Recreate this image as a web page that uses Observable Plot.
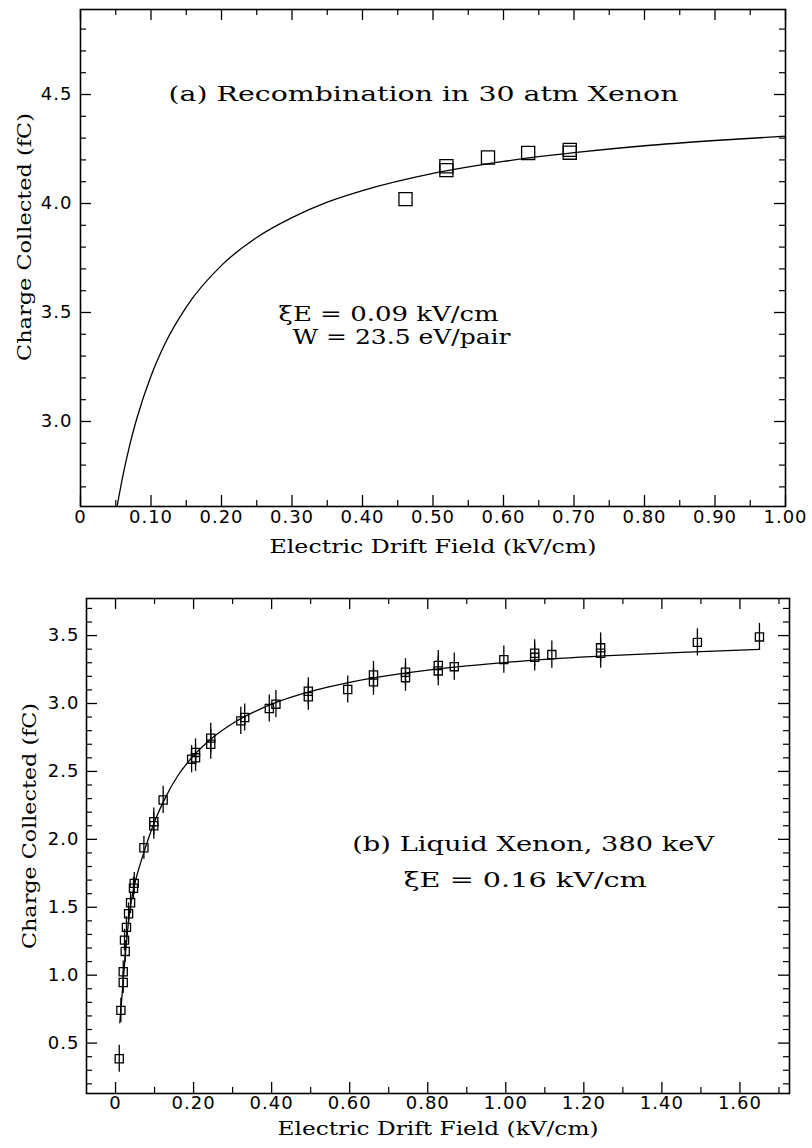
<!DOCTYPE html>
<html><head><meta charset="utf-8">
<script src="https://cdn.jsdelivr.net/npm/d3@7"></script>
<script src="https://cdn.jsdelivr.net/npm/@observablehq/plot@0.6"></script>
<style>
body{margin:0;background:#fff;}
#chart{width:812px;}
#chart svg{display:block;}
</style></head><body><div id="chart"></div>
<script>
// ---------- Panel (a): gas xenon ----------
const aPointE = [0.461, 0.519, 0.519, 0.578, 0.635, 0.694, 0.694];
const aPointQ = [4.02, 4.171, 4.153, 4.211, 4.232, 4.246, 4.233];
const aFitE = [0.052,0.06,0.07,0.08,0.10,0.12,0.15,0.20,0.25,0.30,0.35,0.40,0.50,0.60,0.70,0.80,0.90,1.00];
const aFitQ = [2.612,2.749,2.894,3.015,3.209,3.358,3.525,3.716,3.844,3.935,4.006,4.059,4.138,4.193,4.233,4.265,4.289,4.309];
const aXMajor = [0,0.1,0.2,0.3,0.4,0.5,0.6,0.7,0.8,0.9,1.0];
const aXMinor = [0.05,0.15,0.25,0.35,0.45,0.55,0.65,0.75,0.85,0.95];
const aYMajor = [3.0,3.5,4.0,4.5];
const aYMinor = [2.7,2.8,2.9,3.1,3.2,3.3,3.4,3.6,3.7,3.8,3.9,4.1,4.2,4.3,4.4,4.6,4.7,4.8];
const aNoteText = ["(a) Recombination in 30 atm Xenon", "\u03BEE = 0.09 kV/cm", "W = 23.5 eV/pair"];
const aNoteE = [0.1248, 0.281, 0.3007];
const aNoteQ = [4.50, 3.49, 3.384];

// ---------- Panel (b): liquid xenon ----------
const bPointE = [0.0095,0.0137,0.0197,0.0197,0.0248,0.023,0.028,0.0334,0.0385,0.046,0.048,0.0727,0.098,0.098,0.122,0.195,0.205,0.205,0.244,0.244,0.321,0.331,0.394,0.411,0.494,0.494,0.595,0.661,0.661,0.743,0.743,0.827,0.827,0.868,0.995,1.074,1.074,1.118,1.243,1.243,1.491,1.65];
const bPointQ = [0.385,0.741,0.946,1.025,1.175,1.258,1.352,1.452,1.533,1.64,1.676,1.938,2.10,2.13,2.29,2.59,2.60,2.64,2.70,2.745,2.872,2.897,2.963,2.995,3.05,3.09,3.103,3.16,3.21,3.19,3.23,3.24,3.28,3.271,3.323,3.34,3.37,3.36,3.37,3.41,3.45,3.49];
const bPointErr = [0.10,0.09,0.08,0.08,0.08,0.08,0.08,0.08,0.08,0.08,0.08,0.085,0.10,0.10,0.10,0.10,0.10,0.10,0.11,0.11,0.10,0.10,0.10,0.10,0.10,0.10,0.10,0.10,0.10,0.10,0.10,0.11,0.11,0.10,0.10,0.10,0.10,0.10,0.11,0.11,0.10,0.10];
const bFitE = [0.011,0.014,0.02,0.026,0.03,0.035,0.04,0.05,0.07,0.10,0.13,0.16,0.20,0.25,0.30,0.40,0.50,0.60,0.75,0.90,1.05,1.25,1.45,1.65];
const bFitQ = [0.65,0.76,0.97,1.18,1.30,1.44,1.54,1.68,1.88,2.13,2.32,2.47,2.616,2.752,2.853,2.995,3.089,3.156,3.227,3.277,3.314,3.350,3.377,3.398];
const bXMajor = [0,0.2,0.4,0.6,0.8,1.0,1.2,1.4,1.6];
const bXMinor = [0.1,0.3,0.5,0.7,0.9,1.1,1.3,1.5,1.7];
const bYMajor = [0.5,1.0,1.5,2.0,2.5,3.0,3.5];
const bYMinor = [0.2,0.3,0.4,0.6,0.7,0.8,0.9,1.1,1.2,1.3,1.4,1.6,1.7,1.8,1.9,2.1,2.2,2.3,2.4,2.6,2.7,2.8,2.9,3.1,3.2,3.3,3.4,3.6,3.7];
const bNoteText = ["(b) Liquid Xenon, 380 keV", "\u03BEE = 0.16 kV/cm"];
const bNoteE = [0.6065, 0.7387];
const bNoteQ = [1.958, 1.694];

const xLabel = "Electric Drift Field (kV/cm)";
const yLabel = "Charge Collected (fC)";

// ---------- styles ----------
const serif = "DejaVu Serif";
const sans = "DejaVu Sans";

function panel(cfg) {
  const fw = cfg.width - cfg.ml - cfg.mr;
  const fh = cfg.height - cfg.mt - cfg.mb;
  const pts = cfg.pE.map((e, i) => ({e, q: cfg.pQ[i], err: cfg.pErr ? cfg.pErr[i] : 0}));
  const fit = cfg.fE.map((e, i) => ({e, q: cfg.fQ[i]}));
  const notes = cfg.nText.map((t, i) => ({t, e: cfg.nE[i], q: cfg.nQ[i]}));
  const marks = [
    Plot.frame({stroke: "black", strokeWidth: 1.6}),
    Plot.tickX(cfg.xMajor, {x: d => d, insetTop: fh - 11, stroke: "black", strokeWidth: 1.3}),
    Plot.tickX(cfg.xMajor, {x: d => d, insetBottom: fh - 11, stroke: "black", strokeWidth: 1.3}),
    Plot.tickX(cfg.xMinor, {x: d => d, insetTop: fh - 6, stroke: "black", strokeWidth: 1.2}),
    Plot.tickX(cfg.xMinor, {x: d => d, insetBottom: fh - 6, stroke: "black", strokeWidth: 1.2}),
    Plot.tickY(cfg.yMajor, {y: d => d, insetRight: fw - 11, stroke: "black", strokeWidth: 1.3}),
    Plot.tickY(cfg.yMajor, {y: d => d, insetLeft: fw - 11, stroke: "black", strokeWidth: 1.3}),
    Plot.tickY(cfg.yMinor, {y: d => d, insetRight: fw - 6, stroke: "black", strokeWidth: 1.2}),
    Plot.tickY(cfg.yMinor, {y: d => d, insetLeft: fw - 6, stroke: "black", strokeWidth: 1.2}),
    Plot.axisX({ticks: cfg.xMajor, tickSize: 0, tickPadding: cfg.xPad, tickFormat: cfg.xFmt, label: null,
      fontFamily: sans, fontSize: 18, fill: "black"}),
    Plot.axisY({ticks: cfg.yMajor, tickSize: 0, tickPadding: cfg.yPad, tickFormat: d => d.toFixed(1), label: null,
      fontFamily: sans, fontSize: 18, fill: "black"}),
    Plot.line(fit, {x: "e", y: "q", curve: "monotone-x", stroke: "black", strokeWidth: 1.3})
  ];
  if (cfg.pErr) {
    marks.push(Plot.ruleX(pts, {x: "e", y1: d => d.q - d.err, y2: d => d.q + d.err, stroke: "black", strokeWidth: 1.3}));
  }
  marks.push(
    Plot.dot(pts, {x: "e", y: "q", symbol: "square", r: cfg.r, fill: "none", stroke: "black", strokeWidth: 1.3}),
    Plot.text(notes, {x: "e", y: "q", text: "t", textAnchor: "start", lineAnchor: "middle",
      fontFamily: serif, fontSize: 20, fill: "black"}),
    Plot.text([xLabel], {frameAnchor: "bottom", text: d => d, dy: cfg.xLabDy, textAnchor: "middle", lineAnchor: "middle",
      fontFamily: serif, fontSize: 19, fill: "black"}),
    Plot.text([yLabel], {frameAnchor: "left", text: d => d, dx: cfg.yLabDx, dy: cfg.yLabDy, rotate: -90,
      textAnchor: "middle", lineAnchor: "middle", fontFamily: serif, fontSize: 19, fill: "black"})
  );
  const svg = Plot.plot({
    width: cfg.width, height: cfg.height,
    marginTop: cfg.mt, marginBottom: cfg.mb, marginLeft: cfg.ml, marginRight: cfg.mr,
    style: {fontFamily: sans, fontSize: "18px", background: "white", color: "black"},
    x: {domain: cfg.xDomain},
    y: {domain: cfg.yDomain},
    marks
  });
  // stretch serif texts to the widths seen in the reference
  d3.select(svg).selectAll("text").each(function () {
    const w = cfg.widths[this.textContent];
    if (w) d3.select(this).attr("textLength", w).attr("lengthAdjust", "spacingAndGlyphs");
  });
  d3.select(svg).selectAll("g[aria-label='x-axis tick label'] text, g[aria-label='y-axis tick label'] text")
    .style("letter-spacing", "1px");
  return svg;
}

const svgA = panel({
  width: 812, height: 565, mt: 9, mb: 59, ml: 80, mr: 27,
  xDomain: [0, 1.0], yDomain: [2.61, 4.89],
  pE: aPointE, pQ: aPointQ, pErr: null, fE: aFitE, fQ: aFitQ,
  xMajor: aXMajor, xMinor: aXMinor, yMajor: aYMajor, yMinor: aYMinor,
  nText: aNoteText, nE: aNoteE, nQ: aNoteQ,
  xFmt: d => d === 0 ? "0" : d.toFixed(2), xPad: 4, yPad: 8, r: 7.4,
  xLabDy: 40, yLabDx: -56, yLabDy: -21,
  widths: {"(a) Recombination in 30 atm Xenon": 510, "\u03BEE = 0.09 kV/cm": 220, "W = 23.5 eV/pair": 218,
    "Electric Drift Field (kV/cm)": 327, "Charge Collected (fC)": 248}
});

const svgB = panel({
  width: 812, height: 583, mt: 33, mb: 55, ml: 86, mr: 23,
  xDomain: [-0.0744, 1.727], yDomain: [0.129, 3.773],
  pE: bPointE, pQ: bPointQ, pErr: bPointErr, fE: bFitE, fQ: bFitQ,
  xMajor: bXMajor, xMinor: bXMinor, yMajor: bYMajor, yMinor: bYMinor,
  nText: bNoteText, nE: bNoteE, nQ: bNoteQ,
  xFmt: d => d === 0 ? "0" : d.toFixed(2), xPad: 3, yPad: 7, r: 4.6,
  xLabDy: 35, yLabDx: -57, yLabDy: -20,
  widths: {"(b) Liquid Xenon, 380 keV": 362, "\u03BEE = 0.16 kV/cm": 243,
    "Electric Drift Field (kV/cm)": 321, "Charge Collected (fC)": 246}
});

document.getElementById("chart").append(svgA, svgB);
</script></body></html>
